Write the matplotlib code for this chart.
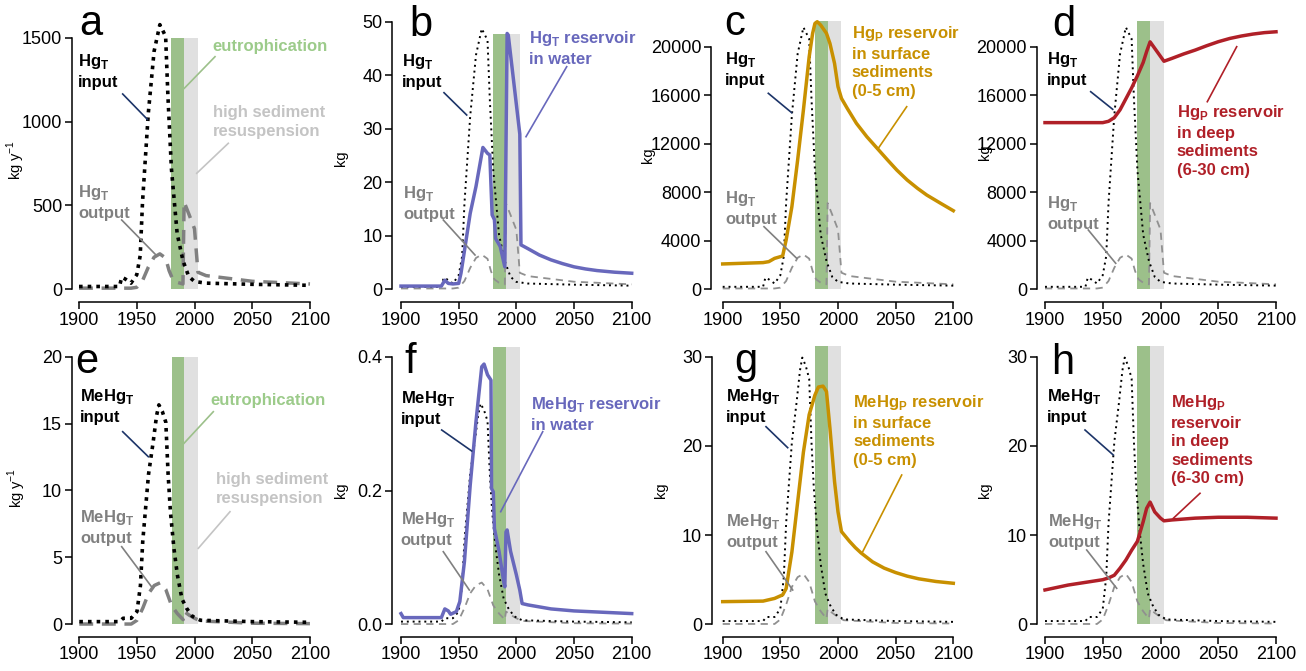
import matplotlib
matplotlib.use("Agg")
import matplotlib.pyplot as plt
from matplotlib.lines import Line2D

plt.rcParams["font.family"] = ["Liberation Sans", "DejaVu Sans"]
plt.rcParams["mathtext.fontset"] = "custom"
plt.rcParams["mathtext.rm"] = "Liberation Sans"
plt.rcParams["mathtext.bf"] = "Liberation Sans:bold"

# ---- data ----
# total Hg, kg per year
hg_in_years = [1900, 1935, 1937, 1940, 1945, 1950, 1953, 1955, 1960, 1965, 1970, 1975,
               1977, 1980, 1985, 1990, 1995, 2000, 2010, 2050, 2100]
hg_input = [15, 15, 70, 60, 35, 85, 200, 520, 1050, 1420, 1580, 1510,
            1150, 720, 330, 170, 75, 45, 35, 28, 22]
hg_out_years = [1900, 1945, 1950, 1955, 1960, 1965, 1970, 1975, 1978, 1981, 1985, 1990,
                1991, 1995, 2000, 2003, 2010, 2050, 2100]
hg_output = [5, 5, 10, 50, 130, 190, 210, 185, 110, 60, 40, 30,
             520, 450, 360, 100, 80, 46, 30]

# MeHg, kg per year
mehg_in_years = [1900, 1935, 1938, 1945, 1950, 1953, 1955, 1960, 1964, 1967, 1969, 1972,
                 1975, 1977, 1979, 1982, 1985, 1989, 1993, 1998, 2005, 2050, 2100]
mehg_input = [0.2, 0.2, 0.45, 0.45, 0.95, 2.9, 6.2, 11.2, 13.6, 15.6, 16.4, 15.9,
              15.1, 11.2, 8.4, 5.7, 3.7, 1.9, 1.2, 0.6, 0.3, 0.2, 0.15]
mehg_out_years = [1900, 1945, 1950, 1955, 1960, 1965, 1970, 1975, 1980, 1985, 1990,
                  1991, 1995, 2000, 2005, 2050, 2100]
mehg_output = [0.02, 0.02, 0.3, 1.2, 2.3, 2.9, 3.1, 2.6, 1.4, 0.8, 0.35,
               0.95, 0.7, 0.45, 0.25, 0.08, 0.05]

# reservoirs, kg
hg_water_years = [1900, 1935, 1938, 1941, 1945, 1950, 1952, 1960, 1965, 1971, 1975, 1977,
                  1979, 1981, 1982, 1986, 1990, 1992, 1993, 2003, 2004, 2010, 2020, 2030,
                  2040, 2050, 2060, 2070, 2085, 2100]
hg_water = [0.6, 0.6, 1.7, 1.1, 1.0, 1.1, 3.0, 14.2, 19.2, 26.5, 25.4, 25.1,
            13.9, 13.0, 9.5, 8.0, 4.2, 47.8, 47.5, 29.0, 8.3, 7.6, 6.4, 5.5,
            4.8, 4.2, 3.8, 3.5, 3.2, 3.0]
hg_surf_years = [1900, 1935, 1940, 1945, 1950, 1952, 1955, 1960, 1965, 1970, 1975, 1978,
                 1980, 1982, 1985, 1990, 1993, 1997, 2000, 2003, 2008, 2016, 2025, 2034,
                 2043, 2051, 2060, 2069, 2077, 2089, 2100]
hg_surf = [2090, 2200, 2280, 2550, 2690, 2750, 4060, 6810, 10660, 14780, 19170, 21100,
           21920, 22060, 21780, 21100, 20270, 18620, 16700, 15740, 14920, 13680, 12580, 11620,
           10660, 9830, 9010, 8320, 7770, 7090, 6480]
hg_deep_years = [1900, 1950, 1955, 1960, 1965, 1970, 1975, 1980, 1985, 1988, 1991, 2003,
                 2010, 2020, 2030, 2040, 2050, 2060, 2070, 2080, 2090, 2100]
hg_deep = [13740, 13740, 13850, 14150, 14800, 15700, 16600, 17600, 18700, 19600, 20400, 18800,
           19040, 19400, 19720, 20080, 20410, 20680, 20880, 21040, 21160, 21230]

mehg_water_years = [1900, 1902, 1935, 1938, 1941, 1943, 1948, 1951, 1955, 1960, 1965, 1970,
                    1972, 1975, 1978, 1978.5, 1980, 1981, 1985, 1989, 1990, 1991, 1992, 1995,
                    2000, 2003, 2005, 2010, 2030, 2050, 2100]
mehg_water = [0.016, 0.010, 0.010, 0.023, 0.020, 0.015, 0.019, 0.034, 0.094, 0.208, 0.303, 0.385,
              0.389, 0.373, 0.365, 0.203, 0.198, 0.143, 0.109, 0.064, 0.056, 0.138, 0.141, 0.109,
              0.074, 0.051, 0.031, 0.029, 0.023, 0.020, 0.016]
mehg_surf_years = [1900, 1935, 1945, 1952, 1955, 1960, 1965, 1970, 1975, 1980, 1983, 1987,
                   1990, 1993, 1997, 2000, 2003, 2010, 2015, 2020, 2030, 2040, 2050, 2060,
                   2070, 2085, 2100]
mehg_surf = [2.54, 2.6, 2.9, 3.3, 4.0, 8.1, 13.7, 19.3, 23.5, 25.7, 26.6, 26.7,
             26.1, 22.0, 16.0, 12.6, 10.4, 9.3, 8.6, 8.0, 7.0, 6.3, 5.8, 5.4,
             5.1, 4.8, 4.6]
mehg_deep_years = [1900, 1920, 1940, 1950, 1955, 1960, 1965, 1970, 1975, 1980, 1985, 1988,
                   1991, 1995, 2000, 2003, 2010, 2030, 2050, 2075, 2100]
mehg_deep = [3.85, 4.4, 4.8, 5.0, 5.2, 5.5, 6.3, 7.2, 8.3, 9.3, 11.5, 13.0,
             13.7, 12.6, 11.9, 11.6, 11.7, 11.9, 12.0, 12.0, 11.9]

eutro_period = (1980, 1991)
resusp_period = (1991, 2003)

# colours
C_GREEN = "#9cc08a"
C_BAND = "#e0e0e0"
C_BLUE = "#6868bc"
C_GOLD = "#c89000"
C_RED = "#b02028"
C_NAVY = "#1c3468"
C_OUT = "#808080"
C_RES_TXT = "#c4c4c4"
C_EUT_TXT = "#9ccb8a"

W, H = 1306, 671
fig = plt.figure(figsize=(W / 100, H / 100), dpi=100)


def fx(x):
    return x / W


def fy(y):
    return 1 - y / H


def make_ax(left, bottom, top, x1900, x2100, y0, ytick_px, ytick_val):
    right = x2100 + 8
    ax = fig.add_axes([fx(left), fy(bottom), (right - left) / W, (bottom - top) / H])
    ppy = (x2100 - x1900) / 200.0
    ax.set_xlim(1900 - (x1900 - left) / ppy, 2100 + (right - x2100) / ppy)
    ppv = (y0 - ytick_px) / ytick_val
    ax.set_ylim(-(bottom - y0) / ppv, (y0 - top) / ppv)
    for s in ["top", "right"]:
        ax.spines[s].set_visible(False)
    for s in ["left", "bottom"]:
        ax.spines[s].set_linewidth(1.1)
    ax.spines["bottom"].set_bounds(1900, 2100)
    ax.set_xticks([1900, 1950, 2000, 2050, 2100])
    ax.tick_params(direction="out", length=5, width=1.1, labelsize=13, pad=2)
    return ax


def label(x, y, s, color, ls=1.32):
    fig.text(fx(x), fy(y), s, ha="left", va="top", fontsize=12, fontweight="bold",
             color=color, linespacing=ls)


def leader(x1, y1, x2, y2, color):
    fig.add_artist(Line2D([fx(x1), fx(x2)], [fy(y1), fy(y2)], transform=fig.transFigure,
                          color=color, lw=1.2))


def bands(ax, top):
    ax.fill_between(eutro_period, 0, top, color=C_GREEN, lw=0, zorder=1)
    ax.fill_between(resusp_period, 0, top, color=C_BAND, lw=0, zorder=1)


def thin_io(ax, in_years, inp, out_years, outp, peak):
    k = peak / max(inp)
    ax.plot(out_years, [v * k for v in outp], color="#909090", lw=1.3,
            ls=(0, (4, 3)), zorder=2)
    ax.plot(in_years, [v * k for v in inp], color="black", lw=1.4,
            ls=(0, (1, 2)), zorder=3)


HG_T = r"Hg$_\mathbf{T}$"
HG_P = r"Hg$_\mathbf{P}$"
ME_T = r"MeHg$_\mathbf{T}$"
ME_P = r"MeHg$_\mathbf{P}$"

# ---------------- top row ----------------
# a
ax = make_ax(72, 302, 8, 79, 310, 289, 38, 1500)
ax.set_yticks([0, 500, 1000, 1500])
ax.spines["left"].set_bounds(0, 1500)
bands(ax, 1500)
ax.plot(hg_out_years, hg_output, color=C_OUT, lw=2.5, ls=(0, (4, 2.5)), zorder=2)
ax.plot(hg_in_years, hg_input, color="black", lw=2.6, ls=(0, (1, 1.4)), zorder=3)
label(78, 52, HG_T + "\ninput", "black")
leader(122.7, 94, 147.3, 119.3, C_NAVY)
label(78, 183, HG_T + "\noutput", C_OUT)
leader(121.7, 220, 156, 255, C_OUT)
fig.text(fx(212), fy(46), "eutrophication", ha="left", va="center", fontsize=12,
         fontweight="bold", color=C_EUT_TXT)
leader(215, 56.7, 184.3, 88.3, C_GREEN)
label(213, 105, "high sediment\nresuspension", C_RES_TXT, 1.32)
leader(228.3, 143.3, 196.7, 173.3, C_RES_TXT)
fig.text(fx(16), fy(160), r"kg y$^{-1}$", rotation=90, ha="center", va="center", fontsize=10.5)
fig.text(fx(79), fy(35), "a", fontsize=30, ha="left", va="baseline")

# b
ax = make_ax(392, 302, 8, 401, 631.7, 289.3, 21.7, 50)
ax.set_yticks([0, 10, 20, 30, 40, 50])
ax.spines["left"].set_bounds(0, 50)
bands(ax, 47.7)
thin_io(ax, hg_in_years, hg_input, hg_out_years, hg_output, 48.7)
ax.plot(hg_water_years, hg_water, color=C_BLUE, lw=2.5, zorder=4)
label(401.7, 52, HG_T + "\ninput", "black")
leader(444, 92.7, 466.7, 115, C_NAVY)
label(403, 184, HG_T + "\noutput", C_OUT)
leader(443.3, 220, 475, 255, C_OUT)
label(529, 29, HG_T + " reservoir\nin water", C_BLUE)
leader(566.7, 66.7, 526, 136.7, C_BLUE)
fig.text(fx(341), fy(158), "kg", rotation=90, ha="center", va="center", fontsize=10.5)
fig.text(fx(409), fy(36), "b", fontsize=30, ha="left", va="baseline")

# c
ax = make_ax(711, 302, 8, 722.7, 953.3, 289.3, 46.7, 20000)
ax.set_yticks([0, 4000, 8000, 12000, 16000, 20000])
ax.spines["left"].set_bounds(0, 20000)
bands(ax, 22140)
thin_io(ax, hg_in_years, hg_input, hg_out_years, hg_output, 21600)
ax.plot(hg_surf_years, hg_surf, color=C_GOLD, lw=2.5, zorder=4)
label(725, 50, HG_T + "\ninput", "black")
leader(768.3, 93.3, 791.7, 112.7, C_NAVY)
label(725, 189, HG_T + "\noutput", C_OUT)
leader(764, 226.7, 796.7, 258.3, C_OUT)
label(851.7, 24, HG_P + " reservoir\nin surface\nsediments\n(0-5 cm)", C_GOLD, 1.3)
leader(906.7, 106.7, 878.3, 148.3, C_GOLD)
fig.text(fx(647.5), fy(155), "kg", rotation=90, ha="center", va="center", fontsize=10.5)
fig.text(fx(724), fy(35), "c", fontsize=30, ha="left", va="baseline")

# d
ax = make_ax(1036.7, 302, 8, 1045, 1276, 289.3, 46.7, 20000)
ax.set_yticks([0, 4000, 8000, 12000, 16000, 20000])
ax.spines["left"].set_bounds(0, 20000)
bands(ax, 22140)
thin_io(ax, hg_in_years, hg_input, hg_out_years, hg_output, 21600)
ax.plot(hg_deep_years, hg_deep, color=C_RED, lw=2.5, zorder=4)
label(1047, 50, HG_T + "\ninput", "black")
leader(1090.7, 91.7, 1112.7, 109.3, C_NAVY)
label(1047, 194, HG_T + "\noutput", C_OUT)
leader(1088.3, 230, 1115.7, 263.3, C_OUT)
label(1176.7, 103, HG_P + " reservoir\nin deep\nsediments\n(6-30 cm)", C_RED, 1.3)
leader(1236.7, 46.7, 1207.3, 101.7, C_RED)
fig.text(fx(985), fy(152), "kg", rotation=90, ha="center", va="center", fontsize=10.5)
fig.text(fx(1052), fy(36), "d", fontsize=30, ha="left", va="baseline")

# ---------------- bottom row ----------------
# e
ax = make_ax(71.7, 636.7, 343, 79.3, 310, 624.3, 356.7, 20)
ax.set_yticks([0, 5, 10, 15, 20])
ax.spines["left"].set_bounds(0, 20)
bands(ax, 20)
ax.plot(mehg_out_years, mehg_output, color=C_OUT, lw=2.5, ls=(0, (4, 2.5)), zorder=2)
ax.plot(mehg_in_years, mehg_input, color="black", lw=2.6, ls=(0, (1, 1.4)), zorder=3)
label(80, 387, ME_T + "\ninput", "black")
leader(122.7, 431.7, 148.3, 456.7, C_NAVY)
label(80, 508, ME_T + "\noutput", C_OUT)
leader(121.7, 546.7, 152.7, 588.3, C_OUT)
fig.text(fx(210), fy(400), "eutrophication", ha="left", va="center", fontsize=12,
         fontweight="bold", color=C_EUT_TXT)
leader(213.3, 411.7, 184, 443.3, C_GREEN)
label(216, 472, "high sediment\nresuspension", C_RES_TXT, 1.32)
leader(230, 511.7, 198.3, 548.3, C_RES_TXT)
fig.text(fx(16.7), fy(488), r"kg y$^{-1}$", rotation=90, ha="center", va="center", fontsize=10.5)
fig.text(fx(75), fy(373), "e", fontsize=30, ha="left", va="baseline")

# f
ax = make_ax(391.7, 636.7, 343, 401, 631.7, 624.3, 356.7, 0.4)
ax.set_yticks([0.0, 0.2, 0.4])
ax.set_yticklabels(["0.0", "0.2", "0.4"])
ax.spines["left"].set_bounds(0, 0.4)
bands(ax, 0.415)
thin_io(ax, mehg_in_years, mehg_input, mehg_out_years, mehg_output, 0.33)
ax.plot(mehg_water_years, mehg_water, color=C_BLUE, lw=2.5, zorder=4)
label(400.7, 389, ME_T + "\ninput", "black")
leader(441.7, 430, 471.7, 451, C_NAVY)
label(400.7, 510, ME_T + "\noutput", C_OUT)
leader(443.3, 551.7, 469.3, 590, C_OUT)
label(530.7, 395, ME_T + " reservoir\nin water", C_BLUE)
leader(542.7, 431.7, 500.7, 511.7, C_BLUE)
fig.text(fx(341), fy(490), "kg", rotation=90, ha="center", va="center", fontsize=10.5)
fig.text(fx(404), fy(373), "f", fontsize=30, ha="left", va="baseline")

# g
ax = make_ax(711.7, 636.7, 343, 722.7, 953.3, 624.3, 356.7, 30)
ax.set_yticks([0, 10, 20, 30])
ax.spines["left"].set_bounds(0, 30)
bands(ax, 31.2)
thin_io(ax, mehg_in_years, mehg_input, mehg_out_years, mehg_output, 29.9)
ax.plot(mehg_surf_years, mehg_surf, color=C_GOLD, lw=2.5, zorder=4)
label(726, 387, ME_T + "\ninput", "black")
leader(766, 426.7, 787.7, 447.7, C_NAVY)
label(726, 512, ME_T + "\noutput", C_OUT)
leader(766, 551.7, 792.7, 590, C_OUT)
label(853.3, 393, ME_P + " reservoir\nin surface\nsediments\n(0-5 cm)", C_GOLD, 1.3)
leader(901.7, 475, 862.7, 551.7, C_GOLD)
fig.text(fx(661), fy(490), "kg", rotation=90, ha="center", va="center", fontsize=10.5)
fig.text(fx(734), fy(373), "g", fontsize=30, ha="left", va="baseline")

# h
ax = make_ax(1036.7, 636.7, 343, 1045, 1276, 624.3, 356.7, 30)
ax.set_yticks([0, 10, 20, 30])
ax.spines["left"].set_bounds(0, 30)
bands(ax, 31.2)
thin_io(ax, mehg_in_years, mehg_input, mehg_out_years, mehg_output, 29.9)
ax.plot(mehg_deep_years, mehg_deep, color=C_RED, lw=2.5, zorder=4)
label(1047.3, 387, ME_T + "\ninput", "black")
leader(1085, 430, 1113.3, 455, C_NAVY)
label(1048, 512, ME_T + "\noutput", C_OUT)
leader(1086.7, 550, 1116.7, 588.3, C_OUT)
label(1171, 393, ME_P + "\nreservoir\nin deep\nsediments\n(6-30 cm)", C_RED, 1.3)
leader(1200, 493.3, 1173.3, 518.3, C_RED)
fig.text(fx(985), fy(490), "kg", rotation=90, ha="center", va="center", fontsize=10.5)
fig.text(fx(1051), fy(374), "h", fontsize=30, ha="left", va="baseline")

fig.savefig("out.png", dpi=100)
